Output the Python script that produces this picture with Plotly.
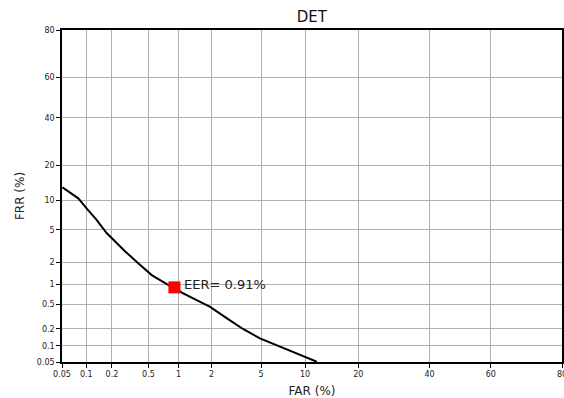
import plotly.graph_objects as go
from statistics import NormalDist

# DET curve data (percent)
far_pct = [0.0505, 0.080, 0.101, 0.133, 0.174, 0.21, 0.28, 0.39, 0.54, 0.79, 0.91,
           1.07, 1.94, 2.7, 3.66, 4.9, 6.8, 8.8, 11.8]
frr_pct = [13.2, 10.5, 8.4, 6.4, 4.6, 3.8, 2.8, 1.96, 1.36, 0.99, 0.91,
           0.76, 0.46, 0.30, 0.197, 0.137, 0.097, 0.071, 0.0506]
eer_pct = 0.91

tick_vals = [0.05, 0.1, 0.2, 0.5, 1, 2, 5, 10, 20, 40, 60, 80]
tick_text = ["0.05", "0.1", "0.2", "0.5", "1", "2", "5", "10", "20", "40", "60", "80"]
axis_lim = [0.05, 80]

nd = NormalDist()
def probit(p):
    return nd.inv_cdf(p / 100.0)

xs = [probit(v) for v in far_pct]
ys = [probit(v) for v in frr_pct]
tpos = [probit(v) for v in tick_vals]
rng = [probit(v) for v in axis_lim]

font_family = "DejaVu Sans"

fig = go.Figure()
fig.add_trace(go.Scatter(x=xs, y=ys, mode="lines",
                         line=dict(color="black", width=2), showlegend=False,
                         cliponaxis=True))
fig.add_trace(go.Scatter(x=[probit(eer_pct)], y=[probit(eer_pct)], mode="markers",
                         marker=dict(symbol="square", size=12, color="red"),
                         showlegend=False))
fig.add_annotation(x=probit(eer_pct), y=probit(eer_pct), text="EER= 0.91%",
                   showarrow=False, xanchor="left", yanchor="middle",
                   xshift=8, yshift=3,
                   font=dict(family=font_family, size=13, color="#222"))

axis_common = dict(
    tickmode="array", tickvals=tpos, ticktext=tick_text, range=rng,
    showgrid=True, gridcolor="#b0b0b0", gridwidth=1,
    showline=True, linecolor="black", linewidth=1.5, mirror=True,
    ticks="outside", ticklen=4, tickcolor="black", tickwidth=1,
    tickfont=dict(family=font_family, size=8, color="#222"),
    zeroline=False, ticklabeloverflow="allow", automargin=False,
)

fig.update_layout(
    width=564, height=398,
    margin=dict(l=62, r=2, t=30, b=36),
    paper_bgcolor="white", plot_bgcolor="white",
    title=dict(text="DET", x=0.553, xanchor="center", y=0.957, yanchor="middle",
               font=dict(family=font_family, size=15, color="#111")),
    xaxis=dict(axis_common, title=dict(text="FAR (%)", standoff=8,
               font=dict(family=font_family, size=12, color="#222"))),
    yaxis=dict(axis_common, title=dict(text="FRR (%)", standoff=10,
               font=dict(family=font_family, size=12, color="#222"))),
)

fig.write_html("out.html")
